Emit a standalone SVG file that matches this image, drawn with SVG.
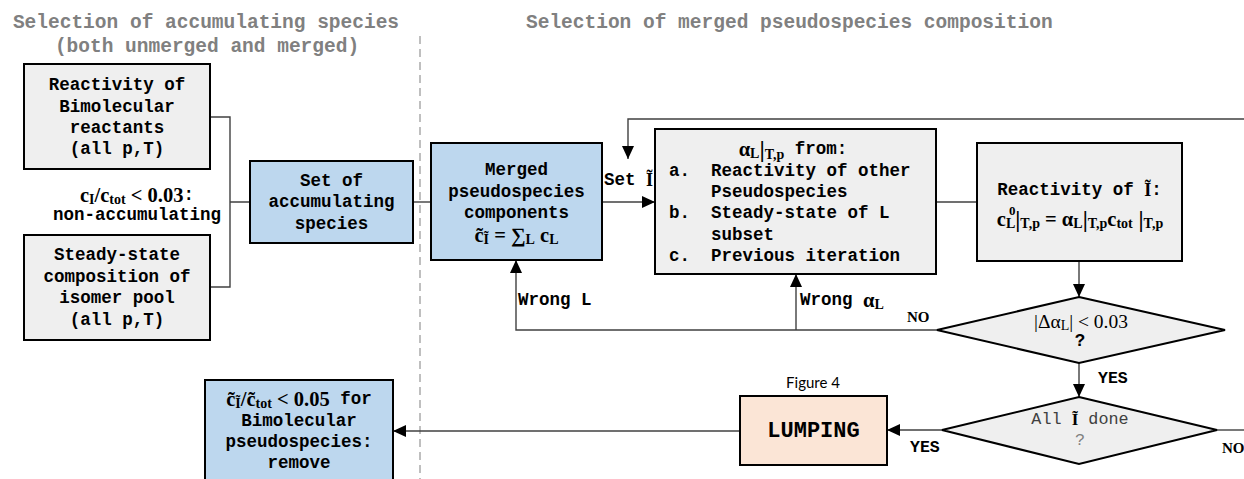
<svg xmlns="http://www.w3.org/2000/svg" width="1244" height="479" viewBox="0 0 1244 479">
<style>
.t{font-family:"Liberation Mono",monospace;font-weight:bold;font-size:17.5px;fill:#000;text-anchor:middle;dominant-baseline:central}
.s{text-anchor:start}
.ttl{font-family:"Liberation Mono",monospace;font-weight:bold;font-size:19.5px;fill:#808080;dominant-baseline:central}
.m{font-family:"Liberation Serif",serif;font-weight:bold;font-size:20.5px}
.sb{font-size:14px}
.no{font-family:"Liberation Serif",serif;font-weight:bold;font-size:15px;fill:#000;dominant-baseline:central}
.box{stroke:#000;stroke-width:2}
.g{fill:#efefef}.b{fill:#bdd7ee}.p{fill:#fbe5d6}
.c{fill:none;stroke:#404040;stroke-width:1.4}
.ca{fill:none;stroke:#404040;stroke-width:1.4;marker-end:url(#ah)}
</style>
<defs>
<marker id="ah" markerUnits="userSpaceOnUse" markerWidth="14" markerHeight="12" refX="13" refY="6" orient="auto">
<path d="M0,0 L13,6 L0,12 Z" fill="#000"/>
</marker>
</defs>

<g id="titles">
<text class="ttl" x="206" y="23" text-anchor="middle">Selection of accumulating species</text>
<text class="ttl" x="207" y="47" text-anchor="middle">(both unmerged and merged)</text>
<text class="ttl" x="526" y="23">Selection of merged pseudospecies composition</text>
</g>
<line x1="420" y1="36" x2="420" y2="479" stroke="#bfbfbf" stroke-width="2" stroke-dasharray="8,5"/>

<g id="connectors">
<path class="c" d="M210,117 H230 V287 H210 M230,202 H250"/>
<path class="c" d="M413,202 H431"/>
<path class="ca" d="M602,202 H655"/>
<path class="ca" d="M1244,119 H628 V159"/>
<path class="c" d="M936,202 H977"/>
<path class="ca" d="M1079,261 V297"/>
<path class="ca" d="M937,330 H516 V260"/>
<path class="ca" d="M796,330 V274"/>
<path class="ca" d="M1079,363 V397"/>
<path class="ca" d="M942,430 H887"/>
<path class="ca" d="M740,431 H393"/>
<path class="c" d="M1217,430 H1244"/>
</g>

<g id="labels">
<text class="t" x="137" y="195"><tspan class="m">c<tspan class="sb" dy="4">I</tspan><tspan dy="-4">/c</tspan><tspan class="sb" dy="4">tot</tspan><tspan dy="-4"> &lt; 0.03</tspan></tspan>:</text>
<text class="t" x="137" y="215">non-accumulating</text>
<text class="t s" x="604" y="180">Set <tspan class="m" style="font-size:18px">Ĩ</tspan></text>
<text class="t s" x="518" y="300">Wrong L</text>
<text class="t s" x="800" y="300">Wrong <tspan class="m">α<tspan class="sb" dy="4">L</tspan></tspan></text>
<text class="no" x="907" y="317">NO</text>
<text class="t s" x="1098" y="378" style="font-size:16.5px">YES</text>
<text class="t s" x="910" y="447" style="font-size:16.5px">YES</text>
<text class="no" x="1222" y="448">NO</text>
<text x="813" y="382" text-anchor="middle" dominant-baseline="central" style="font-family:Lato,'Open Sans',sans-serif;font-size:15px;fill:#000">Figure 4</text>
</g>

<g id="n-bimol">
<rect class="box g" x="24" y="64" width="186" height="105"/>
<text class="t" x="117" y="85">Reactivity of</text>
<text class="t" x="117" y="107">Bimolecular</text>
<text class="t" x="117" y="128">reactants</text>
<text class="t" x="117" y="149">(all p,T)</text>
</g>

<g id="n-steady">
<rect class="box g" x="24" y="235" width="186" height="105"/>
<text class="t" x="117" y="255">Steady-state</text>
<text class="t" x="117" y="277">composition of</text>
<text class="t" x="117" y="298">isomer pool</text>
<text class="t" x="117" y="320">(all p,T)</text>
</g>

<g id="n-set">
<rect class="box b" x="250" y="161" width="163" height="82"/>
<text class="t" x="331.5" y="181">Set of</text>
<text class="t" x="331.5" y="202">accumulating</text>
<text class="t" x="331.5" y="224">species</text>
</g>

<g id="n-merged">
<rect class="box b" x="431" y="143" width="171" height="117"/>
<text class="t" x="516.5" y="170">Merged</text>
<text class="t" x="516.5" y="192">pseudospecies</text>
<text class="t" x="516.5" y="213">components</text>
<text class="t m" x="516.5" y="235">c̃<tspan class="sb" dy="4">Ĩ</tspan><tspan dy="-4"> = ∑</tspan><tspan class="sb" dy="4">L</tspan><tspan dy="-4"> c</tspan><tspan class="sb" dy="4">L</tspan></text>
</g>

<g id="n-alpha">
<rect class="box g" x="655" y="129" width="281" height="145"/>
<text class="t" x="793" y="149"><tspan class="m">α<tspan class="sb" dy="4">L</tspan><tspan dy="-4" style="font-size:24px">|</tspan><tspan class="sb" dy="5">T,p</tspan></tspan><tspan dy="-5">  from:</tspan></text>
<text class="t s" x="669" y="171">a.</text><text class="t s" x="711" y="171">Reactivity of other</text>
<text class="t s" x="711" y="192">Pseudospecies</text>
<text class="t s" x="669" y="213">b.</text><text class="t s" x="711" y="213">Steady-state of L</text>
<text class="t s" x="711" y="235">subset</text>
<text class="t s" x="669" y="256">c.</text><text class="t s" x="711" y="256">Previous iteration</text>
</g>

<g id="n-react">
<rect class="box g" x="977" y="143" width="205" height="118"/>
<text class="t" x="1079.5" y="190">Reactivity of <tspan class="m" style="font-size:18px">Ĩ</tspan>:</text>
<text class="t m" x="1080" y="219">c<tspan class="sb" dy="4">L</tspan><tspan dy="-4" style="font-size:23px">|</tspan><tspan class="sb" dy="4">T,p</tspan><tspan dy="-4"> = α</tspan><tspan class="sb" dy="4">L</tspan><tspan dy="-4" style="font-size:23px">|</tspan><tspan class="sb" dy="4">T,p</tspan><tspan dy="-4">c</tspan><tspan class="sb" dy="4">tot</tspan><tspan dy="-4" style="font-size:23px"> |</tspan><tspan class="sb" dy="4">T,p</tspan></text>
<text class="m" x="1009" y="210" style="font-size:13px;dominant-baseline:central">0</text>
</g>

<g id="n-conv">
<polygon class="g" points="1079,297 1225,330 1079,363 937,330" stroke="#000" stroke-width="2"/>
<text class="t" x="1081" y="321" style="font-family:'Liberation Serif',serif;font-weight:normal;font-size:19.5px">|Δα<tspan class="sb" dy="4">L</tspan><tspan dy="-4">| &lt; 0.03</tspan></text>
<text class="t" x="1080" y="341">?</text>
</g>

<g id="n-done">
<polygon class="g" points="1079,397 1217,430 1079,464 942,430" stroke="#000" stroke-width="2"/>
<text class="t" x="1080" y="419" style="font-weight:normal;font-size:16.8px;fill:#404040">All <tspan class="m" style="fill:#000;font-size:17px">Ĩ</tspan> done</text>
<text class="t" x="1080" y="440" style="font-weight:normal;font-size:16.8px;fill:#808080">?</text>
</g>

<g id="n-lumping">
<rect class="box p" x="740" y="396" width="147" height="69"/>
<text class="t" x="813.5" y="431" style="font-size:22px">LUMPING</text>
</g>

<g id="n-remove">
<rect class="box b" x="205" y="380" width="188" height="110"/>
<text class="t" x="299" y="399"><tspan class="m">c̃<tspan class="sb" dy="4">Ĩ</tspan><tspan dy="-4">/c̃</tspan><tspan class="sb" dy="4">tot</tspan><tspan dy="-4"> &lt; 0.05</tspan></tspan> for</text>
<text class="t" x="299" y="421">Bimolecular</text>
<text class="t" x="299" y="442">pseudospecies:</text>
<text class="t" x="299" y="463">remove</text>
</g>
</svg>
